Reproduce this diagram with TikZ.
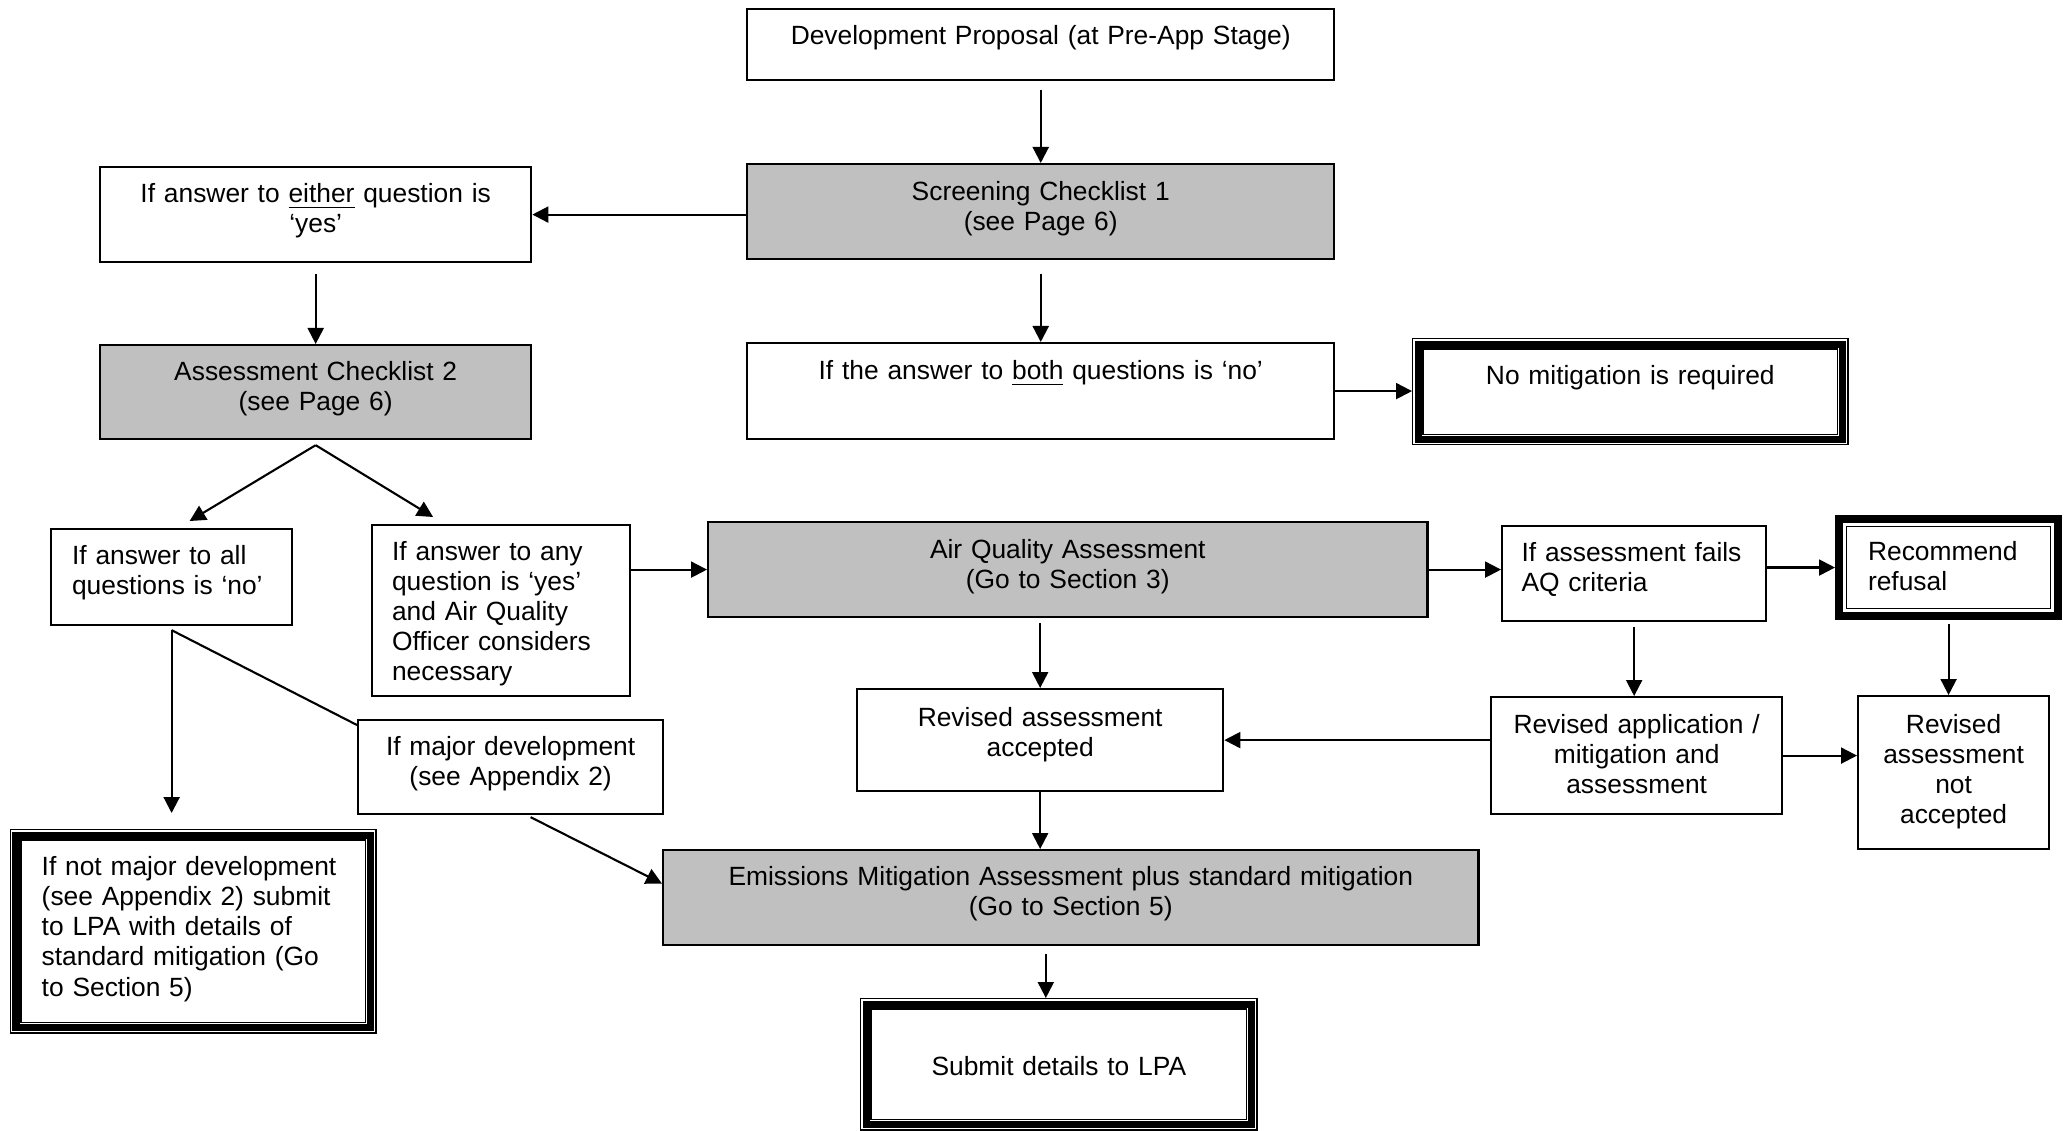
\documentclass[tikz,border=0pt]{standalone}
\usepackage{fontspec}
\setmainfont{Liberation Sans}
\usetikzlibrary{arrows.meta,calc}
\definecolor{shade}{RGB}{192,192,192}

\begin{document}
\begin{tikzpicture}[x=0.01cm,y=-0.01cm,>={Triangle[length=0.16cm,width=0.16cm]},line width=0.6pt,
    font=\fontsize{7.5}{8.55}\selectfont,
    box/.style={draw,anchor=north west,inner ysep=0pt,inner xsep=0.1cm,align=center},
    grey/.style={box,fill=shade},
    framed/.style={box,line width=0.4pt}]
    \useasboundingbox (0,0) rectangle (2064,1130);
    % boxes
    \node[box,text width=5.67cm,text height=.35cm,text depth=.36cm] (dev) at (746,8) {Development Proposal (at Pre-App Stage)};
    \node[grey,text width=5.67cm,text height=.36cm,text depth=.59cm] (scr) at (746,163) {Screening Checklist 1\\(see Page 6)};
    \node[box,text width=4.11cm,text height=.35cm,text depth=.60cm] (eith) at (99,166) {If answer to \underline{either} question is\\`yes'};
    \node[grey,text width=4.11cm,text height=.35cm,text depth=.59cm] (ac2) at (99,344) {Assessment Checklist 2\\(see Page 6)};
    \node[box,text width=5.67cm,text height=.36cm,text depth=.60cm] (both) at (746,342) {If the answer to \underline{both} questions is `no'};
    \node[framed,text width=4.15cm,text height=.46cm,text depth=.60cm] (nomit) at (1412,338) {No mitigation is required};
    \node[box,align=left,inner xsep=.21cm,text width=1.99cm,text height=.35cm,text depth=.61cm] (allno) at (50,528) {If answer to all\\questions is `no'};
    \node[box,align=left,inner xsep=.2cm,text width=2.18cm,text height=.35cm,text depth=1.36cm] (anyyes) at (371,524) {If answer to any\\question is `yes'\\and Air Quality\\Officer considers\\necessary};
    \node[grey,text width=6.99cm,text height=.36cm,text depth=.59cm] (aqa) at (707,521) {Air Quality Assessment\\(Go to Section 3)};
    \node[box,align=left,inner xsep=.195cm,text width=2.25cm,text height=.35cm,text depth=.60cm] (fails) at (1501,525) {If assessment fails\\AQ criteria};
    \node[box,align=left,line width=0.08cm,inner xsep=.29cm,text width=1.61cm,text height=.41cm,text depth=.56cm] (refusal) at (1835,515) {Recommend\\refusal};
    \node[box,text width=2.85cm,text height=.35cm,text depth=.59cm] (major) at (357,719) {If major development\\(see Appendix 2)};
    \node[box,text width=3.46cm,text height=.37cm,text depth=.65cm] (revacc) at (856,688) {Revised assessment\\accepted};
    \node[box,text width=2.71cm,text height=.36cm,text depth=.81cm] (revapp) at (1490,696) {Revised application /\\mitigation and\\assessment};
    \node[box,text width=1.71cm,text height=.37cm,text depth=1.16cm] (revnot) at (1857,695) {Revised\\assessment\\not\\accepted};
    \node[framed,align=left,inner xsep=.31cm,text width=3.03cm,text height=.46cm,text depth=1.57cm] (notmaj) at (10,829) {If not major development\\(see Appendix 2) submit\\to LPA with details of\\standard mitigation (Go\\to Section 5)};
    \node[grey,text width=7.95cm,text height=.35cm,text depth=.60cm] (emis) at (662,849) {Emissions Mitigation Assessment plus standard mitigation\\(Go to Section 5)};
    \node[framed,text width=3.76cm,text height=.77cm,text depth=.54cm] (submit) at (860,998) {Submit details to LPA};
    % heavy borders
    \foreach \n in {nomit,notmaj,submit}{
        \draw[line width=0.07cm] ($(\n.north west)+(6,6)$) rectangle ($(\n.south east)+(-6,-6)$);
        \draw[line width=0.4pt] ($(\n.north west)+(11,11)$) rectangle ($(\n.south east)+(-11,-11)$);
    }
    \draw[line width=0.4pt] ($(refusal.north west)+(11.5,11.5)$) rectangle ($(refusal.south east)+(-11.5,-11.5)$);
    % connectors
    \coordinate (fork) at ($(ac2.south)+(0,5)$);
    \coordinate (split) at ($(allno.south)+(0,4)$);
    \coordinate (split_end) at (split |- notmaj.north);
    \coordinate (sub_in) at ($(submit.north)+(-13,0)$);
    \draw[->,shorten <=0.09cm] (dev.south) -- (scr.north);
    \draw[->] (eith.east -| scr.west) -- (eith.east);
    \draw[->,shorten <=0.11cm] (eith.south) -- (ac2.north);
    \draw[->,shorten <=0.14cm] (scr.south) -- (both.north);
    \draw[->] (both.east) -- (both.east -| nomit.west);
    \draw[->] (fork) -- ($(allno.north)+(18,-7)$);
    \draw[->] (fork) -- ($(anyyes.north)+(-68,-7)$);
    \draw[->] (split) -- ($(split_end)+(0,-16)$);
    \draw (split) -- ($(major.north west)+(0,6)$);
    \draw[->] ($(major.south)+(20,2)$) -- ($(emis.west)+(0,-14)$);
    \draw[->] (aqa.west -| anyyes.east) -- (aqa.west);
    \draw[->] (aqa.east) -- (aqa.east -| fails.west);
    \draw[->] (fails.east |- refusal.west) -- (refusal.west);
    \draw[->,shorten <=0.05cm] (revacc.north |- aqa.south) -- (revacc.north);
    \draw[->,shorten <=0.05cm] (fails.south) -- (fails.south |- revapp.north);
    \draw[->,shorten <=0.04cm] (refusal.south) -- (refusal.south |- revnot.north);
    \draw[->] (revapp.west |- revacc.east) -- (revacc.east);
    \draw[->] (revapp.east) -- (revapp.east -| revnot.west);
    \draw[->] (revacc.south) -- (revacc.south |- emis.north);
    \draw[->,shorten <=0.08cm] (sub_in |- emis.south) -- (sub_in);
\end{tikzpicture}
\end{document}
